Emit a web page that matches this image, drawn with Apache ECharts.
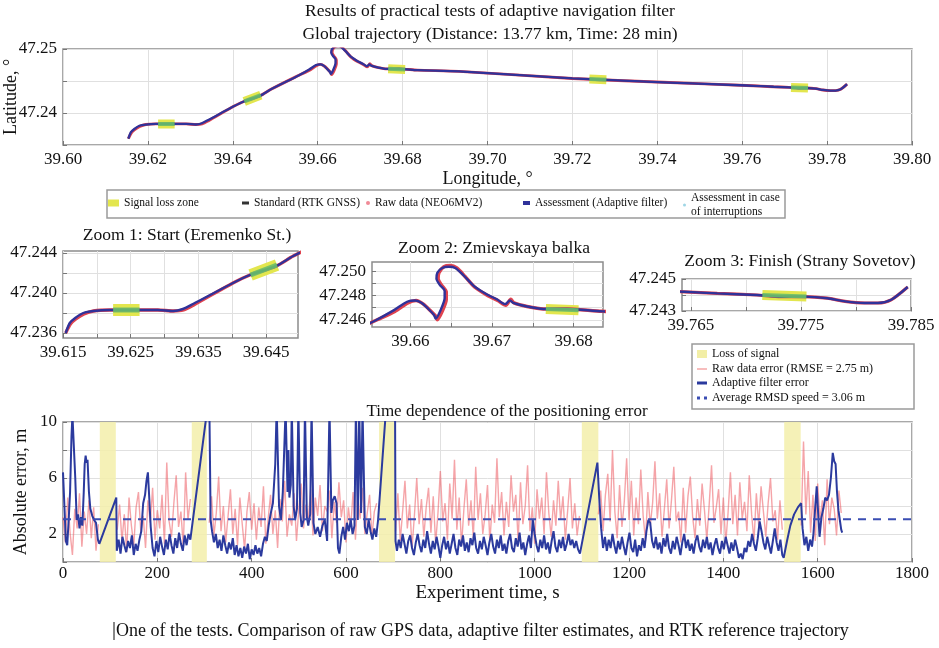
<!DOCTYPE html>
<html><head><meta charset="utf-8">
<script src="https://cdn.jsdelivr.net/npm/echarts@6/dist/echarts.min.js"></script>
<style>html,body{margin:0;padding:0;background:#fff;font-family:'Liberation Serif',serif}#c{width:939px;height:648px}</style>
</head><body><div id="c"></div>
<script>
// ---------------- DATA ----------------
// Trajectory (adaptive filter estimate / RTK standard), lon/lat in degrees
const trackLon = [39.6154,39.6160,39.6168,39.6180,39.6195,39.6219,39.6250,39.6290,39.6313,39.6327,39.6342,39.6401,39.6426,39.6465,39.6490,
  39.6556,39.6580,39.6596,39.6606,39.6614,39.6622,39.6629,39.6631,39.6637,39.6642,39.6642,39.6636,39.6632,39.6633,39.6639,39.6647,39.6655,
  39.6665,39.6678,39.6694,39.6706,39.6716,39.6722,39.6726,39.6743,39.6763,39.6792,39.6835,39.6933,39.7200,39.7414,39.7610,39.7644,39.7674,
  39.7710,39.7732,39.7753,39.7774,39.7790,39.7808,39.7820,39.7832,39.7847];
const trackLat = [47.2360,47.2370,47.2375,47.2380,47.2382,47.2383,47.2383,47.2383,47.2382,47.2384,47.2389,47.2410,47.2418,47.2427,47.2437,
  47.2459,47.2468,47.2475,47.2476,47.2474,47.2469,47.2464,47.2461,47.2468,47.2478,47.2484,47.2489,47.2494,47.2499,47.2503,47.2504,47.2503,
  47.2497,47.2488,47.2481,47.2477,47.2473,47.2476,47.2474,47.2471,47.2469,47.2469,47.2467,47.2465,47.2454,47.2448,47.2443,47.2442,47.2441,
  47.2440,47.2439,47.2439,47.2438,47.2436,47.2435,47.2435,47.2437,47.2445];
// Raw GNSS track (NEO6MV2)
const rawLon = [39.6154,39.6161,39.6169,39.6181,39.6195,39.6219,39.6250,39.6290,39.6313,39.6328,39.6343,39.6401,39.6426,39.6465,39.6490,
  39.6556,39.6581,39.6597,39.6607,39.6616,39.6624,39.6631,39.6633,39.6639,39.6644,39.6644,39.6638,39.6634,39.6635,39.6641,39.6649,39.6657,
  39.6667,39.6679,39.6695,39.6707,39.6717,39.6723,39.6727,39.6743,39.6763,39.6792,39.6835,39.6933,39.7200,39.7414,39.7610,39.7644,39.7674,
  39.7710,39.7732,39.7753,39.7774,39.7790,39.7808,39.7820,39.7832,39.7847];
const rawLat = [47.2360,47.2369,47.2374,47.2379,47.2382,47.2383,47.2383,47.2383,47.2382,47.2383,47.2388,47.2410,47.2418,47.2427,47.2437,
  47.2459,47.2467,47.2474,47.2476,47.2473,47.2468,47.2463,47.2460,47.2467,47.2477,47.2483,47.2489,47.2494,47.2499,47.2504,47.2505,47.2503,
  47.2496,47.2487,47.2480,47.2476,47.2472,47.2477,47.2474,47.2471,47.2469,47.2469,47.2467,47.2465,47.2454,47.2448,47.2443,47.2442,47.2441,
  47.2440,47.2439,47.2439,47.2438,47.2436,47.2435,47.2435,47.2437,47.2445];
// Signal loss zones on the map: [lonStart, latStart, lonEnd, latEnd]
const lossZones = [
  [39.6224,47.2383,39.6263,47.2383],
  [39.6427,47.2418,39.6466,47.2428],
  [39.6766,47.2469,39.6806,47.2468],
  [39.7240,47.2453,39.7280,47.2452],
  [39.7715,47.2440,39.7755,47.2439]
];
// Tick values / labels
const globalLonTicks = [39.60,39.62,39.64,39.66,39.68,39.70,39.72,39.74,39.76,39.78,39.80];
const globalLatTicks = [47.235,47.24,47.245,47.25];
const globalLatLabels = [47.24,47.25];
const zoom1LonTicks = [39.615,39.62,39.625,39.63,39.635,39.64,39.645];
const zoom1LonLabels = [39.615,39.625,39.635,39.645];
const zoom1LatTicks = [47.236,47.238,47.24,47.242,47.244];
const zoom1LatLabels = [47.236,47.24,47.244];
const zoom2LonTicks = [39.66,39.665,39.67,39.675,39.68];
const zoom2LonLabels = [39.66,39.67,39.68];
const zoom2LatTicks = [47.246,47.247,47.248,47.249,47.25];
const zoom2LatLabels = [47.246,47.248,47.25];
const zoom3LonTicks = [39.765,39.77,39.775,39.78,39.785];
const zoom3LonLabels = [39.765,39.775,39.785];
const zoom3LatTicks = [47.243,47.244,47.245];
const zoom3LatLabels = [47.243,47.245];
const errLabels = [2,6,10];

// Time plot: loss-of-signal intervals (s)
const bandStart = [78,273,670,1100,1529];
const bandEnd   = [112,305,704,1135,1564];
const avgRmsd = 3.06;
// Raw data error, sampled every RAW_STEP s, in segments between losses
const RAW_STEP = 5;
const rawStarts = [0,115,310,705,1135,1565];
const rawErrA = [3.2,1.4,4.6,2.1,0.5,3.8,2.4,4.9,1.1,3.6,2.0,4.4,1.7,3.9,0.8,2.7];
const rawErrB = [2.3,4.1,1.5,3.4,0.7,4.6,2.6,1.2,3.9,5.0,2.1,3.3,1.0,4.4,2.8,5.3,1.6,3.7,2.4,4.8,1.3,7.1,2.9,1.8,4.2,6.2,2.5,3.6,1.1,6.4,3.0,4.5];
const rawErrC = [2.8,4.7,1.9,3.5,6.1,2.2,4.0,1.4,3.3,5.2,2.0,3.8,1.2,4.6,2.7,0.9,3.6,5.0,2.3,4.2,
  1.6,3.9,2.5,5.4,1.3,3.1,4.8,2.0,3.7,1.0,4.5,2.9,5.8,1.8,3.4,2.6,4.9,1.5,3.8,5.6,
  2.4,4.1,3.0,5.2,1.9,4.6,3.3,5.5,2.2,4.0,3.6,5.1,1.7,4.3,2.8,5.7,3.2,4.4,1.4,3.9,
  2.5,5.0,1.6,4.7,3.1,5.3,2.0,3.5,4.8,1.8,3.6,4.2];
const rawErrD = [2.2,4.9,1.5,3.6,5.8,2.4,4.1,1.0,3.3,6.0,2.7,4.5,1.8,3.9,5.3,2.1,4.7,1.3,3.5,6.5,
  2.9,4.2,1.6,5.6,3.1,7.3,2.3,4.6,1.2,3.8,5.9,2.6,4.4,1.7,6.8,3.0,4.9,2.0,3.4,5.5,
  1.4,4.1,2.8,7.4,3.2,5.0,1.9,4.3,2.5,6.2,3.6,4.8,1.5,5.7,2.7,4.0,6.9,2.2,3.9,1.3,
  5.2,3.1,4.6,2.0,6.4,3.5,1.8,4.4,2.6,5.8,3.0,4.7,1.6,3.7,6.0,2.4,4.2,1.9,3.3];
const rawErrE = [3.4,5.1,2.2,4.8,6.3,2.9,8.0,3.6,1.7,5.5,2.5,4.3,7.4,3.0,5.8,1.9,4.6,2.7,6.6,3.3,
  1.5,5.0,2.6,4.2,7.2,3.1,4.9,1.8,3.8,5.9,2.4,4.4,6.8,2.9,3.6,1.4,5.3,2.1,4.7,6.1,
  3.2,1.7,4.5,2.6,5.6,3.7,1.6,4.1,6.9,2.8,3.9,5.2,2.0,4.6,1.3,3.5,6.4,2.7,4.8,1.9,
  5.7,3.1,4.3,2.2,6.2,3.4,1.5,4.9,2.6,5.4,3.6,1.8,4.2,6.0,2.9,3.7,1.6,4.4,2.3];
const rawErrF = [2.6,8.6,3.4,6.5,2.1,4.8,1.5,5.6,3.0,4.4,1.2,5.9,2.7,4.6,3.8,1.9,5.1,3.5];
// Adaptive filter error [time s, error m]
const filterErr = [[0,6.4],[3,4],[6,1.5],[9,1.2],[12,3],[15,5],[18,9],[20,10.5],[23,10.5],[26,6],[29,3],[32,3.4],[35,2.4],[38,3.2],[41,2.6],[44,5],[46,7],[48,7.6],[50,7.1],[52,7.3],[55,5],[58,3.8],[62,3.3],[66,3],[70,2.8],[74,1.6],[77,1.3],
[113,4.6],[114,0.8],[118,1.6],[122,0.6],[126,1.8],[130,1.2],[134,0.7],[138,1.5],[142,1],[146,1.9],[150,0.5],[154,1.3],[158,0.8],[162,1.6],[166,2.2],[170,4.2],[174,4.8],[177,5.8],[180,6.4],[183,4.5],[186,2.5],[190,1],[194,0.4],[198,1.5],[202,0.7],[206,1.8],[210,1.1],[214,0.5],[218,1.6],[222,0.9],[226,2],[230,1.2],[234,0.6],[238,1.7],[242,1],[246,2.1],[250,1.3],[254,0.8],[258,1.9],[262,1.2],[266,2],[270,1.6],
[310,12],[312,12],[313,3],[316,2.2],[320,1.4],[324,2],[328,1],[332,1.6],[336,0.8],[340,1.9],[344,1.2],[348,0.6],[352,1.4],[356,0.9],[360,1.7],[364,0.5],[368,1.2],[372,0.4],[376,1],[380,0.3],[384,1.1],[388,0.6],[392,1.3],[396,0.2],[400,0.9],[404,0.5],[408,1.2],[412,0.6],[416,1],[420,0.4],[424,1.3],[428,1.8],[432,1.5],[436,2.6],[440,3.4],[445,4.2],[450,7],[453,11],[456,11],[458,4],[462,3],[466,5],[470,9],[472,11],[474,11],[476,5],[478,8],[480,4.6],[483,5.5],[485,11],[487,11],[489,4],[492,3],[496,3.8],[499,11],[501,11],[503,3.5],[506,2.5],[510,3],[513,11],[515,11],[517,3.2],[520,2.6],[524,3.4],[527,11],[529,11],[531,2.8],[535,2],[540,2.5],[545,1.8],[550,2.6],[555,3],[560,1.5],[565,11],[567,11],[569,3.5],[572,4.4],[576,4.7],[580,4.2],[583,1],[586,0.6],[590,1.8],[594,2.5],[598,1.6],[602,2.8],[606,2.2],[610,3],[614,2],[618,2.6],[621,11],[623,11],[625,3],[628,11],[630,11],[632,3.5],[635,11],[638,11],[640,2.5],[644,2],[648,3],[652,2.2],[656,1.6],[660,2.4],[664,1.8],[668,3],[685,11],[704,11],[705,1.5],
[708,0.8],[712,1.6],[716,1],[720,2],[724,1.3],[728,0.6],[732,1.5],[736,1.9],[740,1],[744,0.5],[748,1.4],[752,2],[756,1.2],[760,0.7],[764,1.6],[768,1],[772,2.2],[776,1.3],[780,0.6],[784,1.5],[788,0.9],[792,1.8],[796,1.1],[800,0.3],[804,1.2],[808,1.8],[812,0.9],[816,1.5],[820,0.6],[824,1.3],[828,2],[832,1],[836,0.5],[840,1.6],[844,1.1],[848,1.9],[852,0.8],[856,1.4],[860,0.7],[864,1.7],[868,1.2],[872,2.1],[876,1],[880,0.6],[884,1.5],[888,0.9],[892,1.8],[896,1.2],[900,0.5],[904,1.4],[908,2],[912,1.1],[916,0.6],[920,1.6],[924,1],[928,1.9],[932,0.8],[936,1.3],[940,0.6],[944,1.5],[948,2],[952,1],[956,0.7],[960,1.7],[964,1.1],[968,2.1],[972,0.9],[976,1.4],[980,0.5],[984,1.3],[988,1.9],[992,1],[996,3],[1000,2],[1004,1.2],[1008,0.7],[1012,1.6],[1016,1],[1020,1.9],[1024,0.9],[1028,1.4],[1032,0.6],[1036,1.5],[1040,2.2],[1044,1.1],[1048,0.7],[1052,1.6],[1056,1],[1060,1.8],[1064,0.8],[1068,1.3],[1072,2],[1076,1.2],[1080,1.6],[1084,1],[1088,1.5],[1092,0.9],[1096,0.6],
[1133,7.1],[1137,4.5],[1141,2.4],[1145,1],[1149,1.8],[1153,0.8],[1157,1.6],[1161,1],[1165,2],[1169,1.2],[1173,0.6],[1177,1.5],[1181,0.9],[1185,1.8],[1189,1.1],[1193,0.5],[1197,1.4],[1201,2.1],[1205,1],[1209,0.7],[1213,1.6],[1217,0.4],[1221,1.2],[1225,0.8],[1229,1.7],[1233,1],[1237,2.2],[1241,3],[1245,2.8],[1249,1.5],[1253,1],[1257,1.8],[1261,0.9],[1265,1.4],[1269,0.6],[1273,1.7],[1277,1.1],[1281,2],[1285,1],[1289,0.6],[1293,1.5],[1297,0.9],[1301,1.8],[1305,1.2],[1309,0.5],[1313,1.4],[1317,2],[1321,1],[1325,1.6],[1329,0.8],[1333,1.3],[1337,0.6],[1341,1.5],[1345,1.9],[1349,1.1],[1353,0.7],[1357,1.6],[1361,1],[1365,1.8],[1369,0.9],[1373,1.4],[1377,0.5],[1381,1.2],[1385,1.7],[1389,1],[1393,0.6],[1397,1.5],[1401,0.9],[1405,1.8],[1409,1.2],[1413,0.6],[1417,1.4],[1421,0.8],[1425,1.6],[1429,1],[1433,0.3],[1437,0.6],[1441,0.2],[1445,1],[1449,0.7],[1453,1.5],[1457,1.1],[1461,2],[1465,1.3],[1469,0.8],[1473,1.7],[1477,2.9],[1481,2.2],[1485,1.4],[1489,0.9],[1493,1.8],[1497,1.2],[1501,0.6],[1505,1.5],[1509,2.4],[1513,1.4],[1517,0.8],[1521,1.6],[1525,0.5],[1528,0.3],
[1535,1.5],[1542,2.6],[1550,3.4],[1558,3.9],[1565,4.2],[1568,2.4],[1572,1.2],[1576,1.8],[1580,0.8],[1584,1.6],[1588,1.1],[1591,2],[1595,4],[1598,5.4],[1601,3.5],[1604,1.8],[1608,3.2],[1612,3.8],[1616,4.6],[1620,4.4],[1624,4.8],[1628,6],[1632,7.8],[1635,7.2],[1638,7],[1641,5],[1644,3.7],[1647,3],[1650,2.3],[1652,2.1]];

// ---------------- BUILD ----------------
const FONT = 'Liberation Serif';
const track = trackLon.map((x,i)=>[x,trackLat[i]]);
const rawTrack = rawLon.map((x,i)=>[x,rawLat[i]]);
const zoneData = [];
lossZones.forEach(z=>{ zoneData.push([z[0],z[1]],[z[2],z[3]],['-','-']); });
const rawErrSegs = [rawErrA,rawErrB,rawErrC,rawErrD,rawErrE,rawErrF];
const rawErrData = [];
rawErrSegs.forEach((seg,k)=>{
  seg.forEach((v,i)=>rawErrData.push([rawStarts[k]+i*RAW_STEP, v]));
  rawErrData.push(['-','-']);
});

const panels = [
  {left:63,top:49,width:849,height:96,lon:[39.60,39.80],lat:[47.235,47.25],lt:globalLonTicks,ll:globalLonTicks,at:globalLatTicks,al:globalLatLabels,ld:2,ad:2,zw:9,bw:2.3,rw:2.9,gw:4},
  {left:63,top:251,width:235,height:87,lon:[39.615,39.6497],lat:[47.2355,47.2442],lt:zoom1LonTicks,ll:zoom1LonLabels,at:zoom1LatTicks,al:zoom1LatLabels,ld:3,ad:3,zw:12,bw:2.4,rw:3.3,gw:5},
  {left:372,top:262,width:231,height:65,lon:[39.6553,39.6836],lat:[47.2454,47.2508],lt:zoom2LonTicks,ll:zoom2LonLabels,at:zoom2LatTicks,al:zoom2LatLabels,ld:2,ad:3,zw:10,bw:2.4,rw:3.5,gw:4},
  {left:682,top:279,width:229,height:32,lon:[39.7642,39.785],lat:[47.243,47.245],lt:zoom3LonTicks,ll:zoom3LonLabels,at:zoom3LatTicks,al:zoom3LatLabels,ld:3,ad:3,zw:10,bw:2.4,rw:3.2,gw:4}
];

const grids=[], xAxes=[], yAxes=[], series=[];
const axisCommon = {
  axisLine:{show:false},
  splitLine:{show:true,lineStyle:{color:'#e0e0e0',width:1}},
  nameMoveOverlap:false
};
const labelStyle = {fontFamily:FONT,fontSize:17,fontStyle:'normal',fontWeight:'normal',color:'#111',margin:6,
  textStyle:{fontFamily:FONT,fontSize:17}};
const nameStyle = {fontFamily:FONT,fontSize:18,color:'#111'};
panels.forEach((p,gi)=>{
  grids.push({left:p.left,top:p.top,width:p.width,height:p.height,show:true,borderColor:'#8c8c8c',borderWidth:1.5,backgroundColor:'#fff',containLabel:false,outerBoundsMode:'none'});
  const xa = Object.assign({type:'value',gridIndex:gi,min:p.lon[0],max:p.lon[1],
    axisTick:{show:true,inside:true,length:4,lineStyle:{color:'#777'},customValues:p.lt},
    axisLabel:Object.assign({customValues:p.ll,formatter:(v)=>Number(v).toFixed(p.ld)},labelStyle)}, axisCommon);
  const ya = Object.assign({type:'value',gridIndex:gi,min:p.lat[0],max:p.lat[1],
    axisTick:{show:true,inside:true,length:4,lineStyle:{color:'#777'},customValues:p.at},
    axisLabel:Object.assign({customValues:p.al,formatter:(v)=>Number(v).toFixed(p.ad)},labelStyle)}, axisCommon);
  if(gi===0){
    xa.name='Longitude, °'; xa.nameLocation='middle'; xa.nameGap=25; xa.nameTextStyle=nameStyle;
    ya.name='Latitude, °'; ya.nameLocation='middle'; ya.nameGap=43; ya.nameRotate=90; ya.nameTextStyle=nameStyle;
  }
  xAxes.push(xa); yAxes.push(ya);
  const base = {type:'line',xAxisIndex:gi,yAxisIndex:gi,symbol:'none',clip:true,silent:true};
  series.push(Object.assign({},base,{name:'Signal loss zone',data:zoneData,z:1,lineStyle:{color:'#e3e64e',width:p.zw,cap:'butt'},itemStyle:{color:'#e3e64e'}}));
  series.push(Object.assign({},base,{name:'Raw data (NEO6MV2)',data:rawTrack,smooth:0.25,z:2,lineStyle:{color:'#e0434f',width:p.rw},itemStyle:{color:'#f08a96'}}));
  series.push(Object.assign({},base,{name:'Standard (RTK GNSS)',data:track,smooth:0.25,z:3,lineStyle:{color:'#222',width:1},itemStyle:{color:'#222'}}));
  series.push(Object.assign({},base,{name:'Assessment (Adaptive filter)',data:track,smooth:0.25,z:4,lineStyle:{color:'#30329a',width:p.bw},itemStyle:{color:'#30329a'}}));
  series.push(Object.assign({},base,{name:'Assessment in case of interruptions',data:zoneData,z:5,lineStyle:{color:'#68bf6a',width:p.gw,cap:'butt',opacity:0.9},itemStyle:{color:'#9fd6e6'}}));
});

// time plot
const ti = panels.length;
grids.push({left:63,top:422,width:849,height:140,show:true,borderColor:'#8c8c8c',borderWidth:1.5,backgroundColor:'#fff',containLabel:false,outerBoundsMode:'none'});
xAxes.push(Object.assign({type:'value',gridIndex:ti,min:0,max:1800,interval:200,
  axisTick:{show:true,inside:true,length:4,lineStyle:{color:'#777'}},
  axisLabel:Object.assign({},labelStyle,{margin:3,formatter:(v)=>String(v)}),
  name:'Experiment time, s',nameLocation:'middle',nameGap:22,nameTextStyle:Object.assign({},nameStyle,{fontSize:19})},axisCommon));
yAxes.push(Object.assign({type:'value',gridIndex:ti,min:0,max:10,interval:2,
  axisTick:{show:true,inside:true,length:4,lineStyle:{color:'#777'}},
  axisLabel:Object.assign({},labelStyle,{formatter:(v)=>errLabels.indexOf(v)>=0?String(v):''}),
  name:'Absolute error, m',nameLocation:'middle',nameGap:33,nameRotate:90,nameTextStyle:nameStyle},axisCommon));
const tb = {type:'line',xAxisIndex:ti,yAxisIndex:ti,symbol:'none',clip:true,silent:true};
series.push(Object.assign({},tb,{name:'Loss of signal',z:1,data:bandStart.map((s)=>[s,-1]),lineStyle:{width:0,opacity:0},itemStyle:{color:'#f2eea6'},
  markArea:{silent:true,itemStyle:{color:'rgba(243,239,170,0.85)'},data:bandStart.map((s,i)=>[{xAxis:s},{xAxis:bandEnd[i]}])}}));
series.push(Object.assign({},tb,{name:'Raw data error (RMSE = 2.75 m)',z:2,data:rawErrData,lineStyle:{color:'rgba(236,90,96,0.55)',width:1.4},itemStyle:{color:'#f2a0a0'}}));
series.push(Object.assign({},tb,{name:'Adaptive filter error',z:3,data:filterErr,lineStyle:{color:'#2b3a9e',width:2},itemStyle:{color:'#2b3a9e'}}));
series.push(Object.assign({},tb,{name:'Average RMSD speed = 3.06 m',z:4,data:[[0,avgRmsd],[1800,avgRmsd]],lineStyle:{color:'#3a4db3',width:2,type:[8,7]},itemStyle:{color:'#3a4db3'}}));

const legTxt = {fontFamily:FONT,fontSize:11.5,color:'#111'};
function leg(left,top,item,w,h,fs){
  return {left:left,top:top,padding:0,itemGap:0,itemWidth:w,itemHeight:h,selectedMode:false,
    textStyle:Object.assign({},legTxt,fs?{fontSize:fs}:{}),data:[item]};
}
const legends = [
  leg(108,197,{name:'Signal loss zone',icon:'rect',itemStyle:{color:'#e3e64e'}},11,7),
  leg(242,197,{name:'Standard (RTK GNSS)',icon:'rect',itemStyle:{color:'#333'}},7,3),
  leg(366,197,{name:'Raw data (NEO6MV2)',icon:'circle',itemStyle:{color:'#f08a96'}},4,4),
  leg(523,197,{name:'Assessment (Adaptive filter)',icon:'rect',itemStyle:{color:'#30329a'}},7,4),
  Object.assign(leg(683,191,{name:'Assessment in case of interruptions',icon:'circle',itemStyle:{color:'#9fd6e6'}},3,3),
    {formatter:()=> 'Assessment in case\nof interruptions',textStyle:Object.assign({},legTxt,{lineHeight:14})}),
  leg(697,348,{name:'Loss of signal',icon:'rect',itemStyle:{color:'#f2eea6'}},10,8,12),
  leg(697,363,{name:'Raw data error (RMSE = 2.75 m)',icon:'rect',itemStyle:{color:'#f4a7a7'}},10,1.5,12),
  leg(697,377,{name:'Adaptive filter error',icon:'rect',itemStyle:{color:'#2b3a9e'}},10,3,12),
  leg(697,392,{name:'Average RMSD speed = 3.06 m',icon:'path://M0,0h3v3h-3z M7,0h3v3h-3z',itemStyle:{color:'#3a4db3'}},10,3,12)
];

function txt(x,y,text,size,align){
  return {type:'text',x:x,y:y,silent:true,style:{text:text,fill:'#111',font:size+'px '+FONT,
    textAlign:align||'center',align:align||'center',textVerticalAlign:'middle',verticalAlign:'middle'}};
}
const graphics = [
  {type:'rect',shape:{x:107,y:190,width:678,height:28},style:{fill:'#fff',stroke:'#9a9a9a',lineWidth:1.5},z:-1,silent:true},
  {type:'rect',shape:{x:692,y:344,width:222,height:65},style:{fill:'#fff',stroke:'#9a9a9a',lineWidth:1.5},z:-1,silent:true},
  txt(490,11,'Results of practical tests of adaptive navigation filter',17.5),
  txt(490,34,'Global trajectory (Distance: 13.77 km, Time: 28 min)',17.5),
  txt(187,235,'Zoom 1: Start (Eremenko St.)',17.5),
  txt(494,248,'Zoom 2: Zmievskaya balka',17.5),
  txt(800,261,'Zoom 3: Finish (Strany Sovetov)',17.5),
  txt(507,412,'Time dependence of the positioning error',17),
  txt(116,631,'One of the tests. Comparison of raw GPS data, adaptive filter estimates, and RTK reference trajectory',18,'left'),
  {type:'line',shape:{x1:114,y1:622,x2:114,y2:640},style:{stroke:'#111',lineWidth:1},silent:true}
];

const chart = echarts.init(document.getElementById('c'),null,{renderer:'canvas'});
chart.setOption({
  animation:false,backgroundColor:'#fff',textStyle:{fontFamily:FONT},
  grid:grids,xAxis:xAxes,yAxis:yAxes,series:series,legend:legends,graphic:graphics
});
</script></body></html>
